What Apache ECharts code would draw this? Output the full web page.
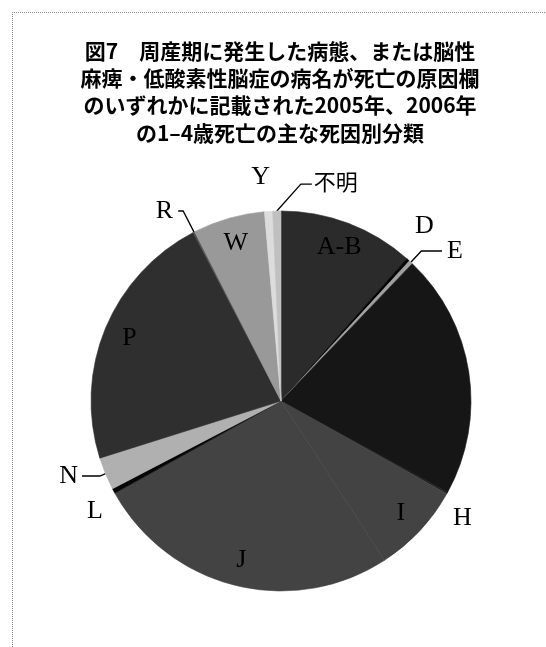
<!DOCTYPE html>
<html>
<head>
<meta charset="utf-8">
<script src="https://cdn.jsdelivr.net/npm/echarts@6/dist/echarts.min.js"></script>
<style>
html,body{margin:0;padding:0;background:#fff;}
#c{width:546px;height:647px;}
</style>
</head>
<body>
<div id="c"></div>
<script>
// ---- data (values are slice shares in degrees of 360) ----
const titleLines = [
  '図7　周産期に発生した病態、または脳性',
  '麻痺・低酸素性脳症の病名が死亡の原因欄',
  'のいずれかに記載された2005年、2006年',
  'の1–4歳死亡の主な死因別分類'
];
const categories = ['A-B', 'D', 'E', 'G', 'H', 'I', 'J', 'L', 'N', 'P', 'R', 'W', 'Y', '不明'];
const values     = [41.5, 1.0, 1.2, 75, 0.5, 27.8, 94, 1.5, 10, 80, 0.5, 22, 2.5, 2.5];
const insideLabels  = ['A-B', 'I', 'J', 'P', 'W'];
const outsideLabels = ['D', 'E', 'H', 'L', 'N', 'R', 'Y', '不明'];

// ---- styles ----
const sliceColors = {
  'A-B': '#2b2b2b', 'D': '#000000', 'E': '#a0a0a0', 'G': '#161616', 'H': '#1c1c1c',
  'I': '#434343', 'J': '#434343', 'L': '#050505', 'N': '#b0b0b0', 'P': '#2f2f2f',
  'R': '#555555', 'W': '#999999', 'Y': '#dcdcdc', '不明': '#c0c0c0'
};
// leader-line geometry for outside labels: [length, length2, distanceToLabelLine, showLine]
const outsideStyle = {
  'D': [45.5, 0, -23.6, false],
  'E': [15.4, 20.6, 5, true],
  'H': [51.7, 0, -39.5, false],
  'L': [42.4, 0, -26.7, false],
  'N': [6, 18, 4, true],
  'R': [23.7, 5, 5, true],
  'Y': [34.5, 0, -3.7, false],
  '不明': [10, 10, 5, true]
};

const CX = 281, CY = 401, R = 190;
const serifFont = '"Liberation Serif", "DejaVu Serif", serif';
const cjkFont = '"Noto Sans CJK JP", sans-serif';

const pieData = categories.map(function (name, i) {
  const st = outsideStyle[name];
  const item = {
    name: name,
    value: values[i],
    itemStyle: { color: sliceColors[name], borderColor: sliceColors[name], borderWidth: 0.6 },
    label: { show: !!st },
    labelLine: { show: false }
  };
  if (st) {
    item.label = {
      show: true,
      distanceToLabelLine: st[2],
      fontFamily: name === '不明' ? cjkFont : serifFont,
      fontSize: name === '不明' ? 22 : 26
    };
    item.labelLine = { show: st[3], length: st[0], length2: st[1] };
  }
  return item;
});

const labelData = categories.map(function (name, i) {
  return {
    name: name,
    value: values[i],
    itemStyle: { color: 'rgba(0,0,0,0)' },
    label: { show: insideLabels.indexOf(name) >= 0 }
  };
});

const chart = echarts.init(document.getElementById('c'), null, { renderer: 'canvas' });
chart.setOption({
  backgroundColor: '#ffffff',
  animation: false,
  graphic: [
    { type: 'line', shape: { x1: 12, y1: 12.5, x2: 546, y2: 12.5 },
      style: { stroke: '#8a8a8a', lineWidth: 1, lineDash: [1, 1] }, silent: true },
    { type: 'line', shape: { x1: 12.5, y1: 12, x2: 12.5, y2: 647 },
      style: { stroke: '#8a8a8a', lineWidth: 1, lineDash: [1, 1] }, silent: true },
    { type: 'text', x: 280, y: 37, silent: true,
      style: {
        text: titleLines.join('\n'),
        font: 'bold 21px "Noto Sans CJK JP", sans-serif',
        lineHeight: 27.4,
        textAlign: 'center',
        textVerticalAlign: 'top',
        fill: '#000'
      } }
  ],
  series: [
    {
      type: 'pie',
      center: [CX, CY],
      radius: [0, R],
      startAngle: 90,
      clockwise: true,
      avoidLabelOverlap: false,
      silent: true,
      label: {
        position: 'outside',
        alignTo: 'none',
        color: '#000',
        fontFamily: serifFont,
        fontSize: 26,
        formatter: '{b}'
      },
      labelLine: {
        lineStyle: { color: '#000', width: 1.3 },
        smooth: false
      },
      labelLayout: function (p) {
        if (categories[p.dataIndex] !== '不明' || !p.labelLinePoints) return {};
        const a = p.labelLinePoints[0];
        return {
          x: a[0] + 37,
          y: a[1] - 29,
          align: 'left',
          verticalAlign: 'middle',
          labelLinePoints: [[a[0], a[1]], [a[0] + 24, a[1] - 27], [a[0] + 35, a[1] - 27]]
        };
      },
      data: pieData
    },
    {
      type: 'pie',
      center: [CX, CY],
      radius: [142, 180],
      startAngle: 90,
      clockwise: true,
      avoidLabelOverlap: false,
      silent: true,
      itemStyle: { borderWidth: 0 },
      label: {
        position: 'inside',
        color: '#000',
        fontFamily: serifFont,
        fontSize: 26,
        formatter: '{b}'
      },
      labelLine: { show: false },
      data: labelData
    }
  ]
});
</script>
</body>
</html>
